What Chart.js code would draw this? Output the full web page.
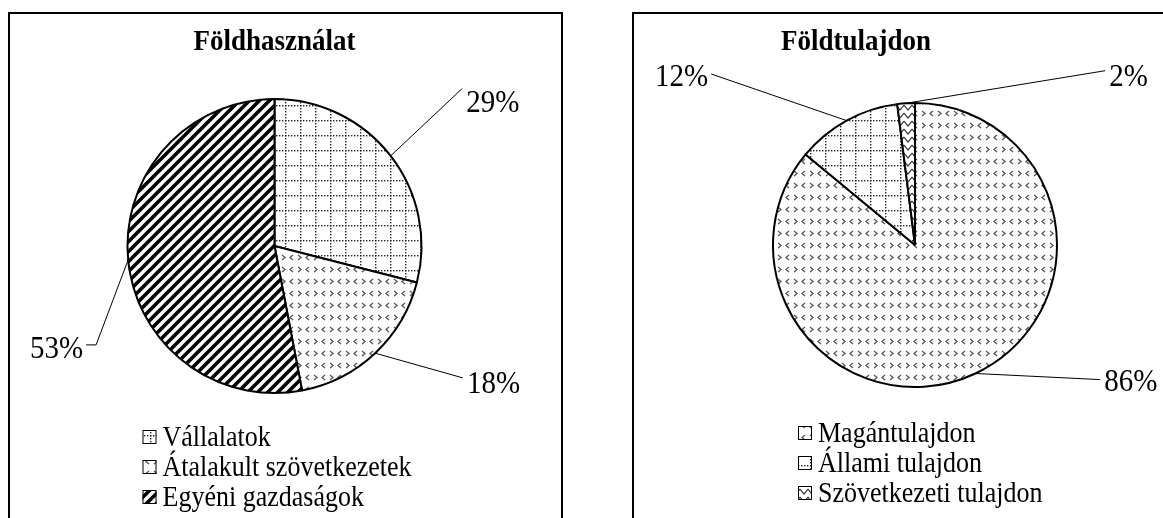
<!DOCTYPE html>
<html>
<head>
<meta charset="utf-8">
<script src="https://cdn.jsdelivr.net/npm/chart.js@4"></script>
<style>
  body { margin: 0; width: 1163px; height: 518px; overflow: hidden; background: #fff; position: relative; }
  .doboz { position: absolute; top: 12px; height: 600px; border: 2px solid #000; }
  canvas { position: absolute; left: 0; top: 0; }
</style>
</head>
<body>
<div class="doboz" style="left:8px; width:551px"></div>
<div class="doboz" style="left:632px; width:600px"></div>
<canvas id="chartHasznalat" width="1163" height="518"></canvas>
<canvas id="chartTulajdon" width="1163" height="518"></canvas>
<script>
// adatok
const cimHasznalat = "Földhasználat";
const kategoriakHasznalat = ["Vállalatok", "Átalakult szövetkezetek", "Egyéni gazdaságok"];
const ertekekHasznalat = [29, 18, 53];

const cimTulajdon = "Földtulajdon";
const kategoriakTulajdon = ["Magántulajdon", "Állami tulajdon", "Szövetkezeti tulajdon"];
const ertekekTulajdon = [86, 12, 2];

const betu = '"Liberation Serif", "Times New Roman", serif';

// mintak (pattern fill)
function ujVaszon(w, h) {
    let c = document.createElement("canvas");
    c.width = w;
    c.height = h;
    let x = c.getContext("2d");
    x.fillStyle = "#fff";
    x.fillRect(0, 0, w, h);
    return [c, x];
}

function mintaRacs() {
    let [c, x] = ujVaszon(15, 15);
    x.fillStyle = "#222";
    for (let i = 0; i < 15; i += 3) {
        x.fillRect(i, 0, 1.4, 1.4);
        x.fillRect(0, i, 1.4, 1.4);
    }
    return x.createPattern(c, "repeat");
}

function mintaNyil() {
    let [c, x] = ujVaszon(16, 24);
    x.strokeStyle = "#555";
    x.lineWidth = 1.3;
    const kisebb = (px, py) => { x.beginPath(); x.moveTo(px + 3, py); x.lineTo(px, py + 2.5); x.lineTo(px + 3, py + 5); x.stroke(); };
    const nagyobb = (px, py) => { x.beginPath(); x.moveTo(px, py); x.lineTo(px + 3, py + 2.5); x.lineTo(px, py + 5); x.stroke(); };
    kisebb(2, 3);
    nagyobb(10, 3);
    kisebb(2, 15);
    nagyobb(10, 15);
    return x.createPattern(c, "repeat");
}

function mintaCsik() {
    let [c, x] = ujVaszon(10, 10);
    x.strokeStyle = "#000";
    x.lineWidth = 3.6;
    x.beginPath();
    x.moveTo(-5, 5); x.lineTo(5, -5);
    x.moveTo(0, 10); x.lineTo(10, 0);
    x.moveTo(5, 15); x.lineTo(15, 5);
    x.stroke();
    return x.createPattern(c, "repeat");
}

function mintaCikk() {
    let [c, x] = ujVaszon(8, 8);
    x.strokeStyle = "#333";
    x.lineWidth = 1.2;
    x.beginPath();
    x.moveTo(0, 1); x.lineTo(4, 6); x.lineTo(8, 1);
    x.stroke();
    return x.createPattern(c, "repeat");
}

// szoveg kicsit magasabbra nyujtva, mint az eredetin
function irj(ctx, szoveg, x, y, nyujt) {
    ctx.save();
    ctx.translate(x, y);
    ctx.scale(1, nyujt);
    ctx.fillText(szoveg, 0, 0);
    ctx.restore();
}

// feliratok, vezetovonalak, jelmagyarazat
const rajzPlugin = {
    id: "rajz",
    afterDraw(chart) {
        const ctx = chart.ctx;
        const beall = chart.options.plugins.rajz;
        const meta = chart.getDatasetMeta(0);
        const cx = meta.data[0].x;
        const cy = meta.data[0].y;
        const R = meta.data[0].outerRadius;
        const adat = chart.data.datasets[0].data;
        const szinek = chart.data.datasets[0].backgroundColor;

        ctx.save();
        ctx.fillStyle = "#000";
        ctx.font = "bold 27px " + betu;
        ctx.textAlign = "center";
        ctx.textBaseline = "middle";
        irj(ctx, beall.cim, cx + beall.cimDx, 42, 1.12);

        // szazalekok
        ctx.font = "29px " + betu;
        ctx.strokeStyle = "#000";
        ctx.lineWidth = 1;
        meta.data.forEach((ív, i) => {
            const kozep = (ív.startAngle + ív.endAngle) / 2;
            const sx = cx + R * Math.cos(kozep);
            const sy = cy + R * Math.sin(kozep);
            const szog = (beall.cimkeSzog[i] - 90) * Math.PI / 180;
            const ex = cx + beall.cimkeTav[i] * Math.cos(szog);
            const ey = cy + beall.cimkeTav[i] * Math.sin(szog);
            const farok = beall.farok[i];
            ctx.beginPath();
            ctx.moveTo(sx, sy);
            ctx.lineTo(ex, ey);
            const jobb = ex > cx;
            if (farok) ctx.lineTo(jobb ? ex + farok : ex - farok, ey);
            ctx.stroke();
            ctx.textAlign = jobb ? "left" : "right";
            const tx = jobb ? ex + farok + 4 : ex - farok - 3;
            irj(ctx, adat[i] + "%", tx, ey + beall.cimkeDy[i], 1.1);
        });

        // jelmagyarazat
        ctx.font = "26px " + betu;
        ctx.textAlign = "left";
        chart.data.labels.forEach((nev, i) => {
            const lx = cx + beall.jelDx;
            const ly = cy + beall.jelDy + i * 30;
            ctx.fillStyle = szinek[i];
            ctx.fillRect(lx, ly - 7, 14, 14);
            ctx.strokeRect(lx + 0.5, ly - 6.5, 13, 13);
            ctx.fillStyle = "#000";
            irj(ctx, nev, lx + 20, ly + 1, 1.1);
        });
        ctx.restore();
    }
};

function kordiagram(id, kategoriak, ertekek, szinek, sugar, padding, rajz) {
    return new Chart(id, {
        type: "pie",
        data: {
            labels: kategoriak,
            datasets: [{
                data: ertekek,
                backgroundColor: szinek,
                borderColor: "#000",
                borderWidth: 2,
                radius: sugar
            }]
        },
        options: {
            responsive: false,
            animation: false,
            events: [],
            layout: { padding: padding },
            plugins: {
                legend: { display: false },
                title: { display: false },
                tooltip: { enabled: false },
                rajz: rajz
            }
        },
        plugins: [rajzPlugin]
    });
}

kordiagram("chartHasznalat", kategoriakHasznalat, ertekekHasznalat,
    [mintaRacs(), mintaNyil(), mintaCsik()], 147,
    { left: 0, right: 614, top: 0, bottom: 26 },
    {
        cim: cimHasznalat, cimDx: 0,
        cimkeSzog: [50, 125, 241], cimkeTav: [245, 230, 204], cimkeDy: [15, 7, 5], farok: [0, 0, 10],
        jelDx: -132, jelDy: 191
    });

kordiagram("chartTulajdon", kategoriakTulajdon, ertekekTulajdon,
    [mintaNyil(), mintaRacs(), mintaCikk()], 142,
    { left: 667, right: 0, top: 0, bottom: 28 },
    {
        cim: cimTulajdon, cimDx: -59,
        cimkeSzog: [126, 310, 47.5], cimkeTav: [229, 266, 258], cimkeDy: [3, 4, 7], farok: [0, 0, 0],
        jelDx: -117, jelDy: 188
    });
</script>
</body>
</html>
